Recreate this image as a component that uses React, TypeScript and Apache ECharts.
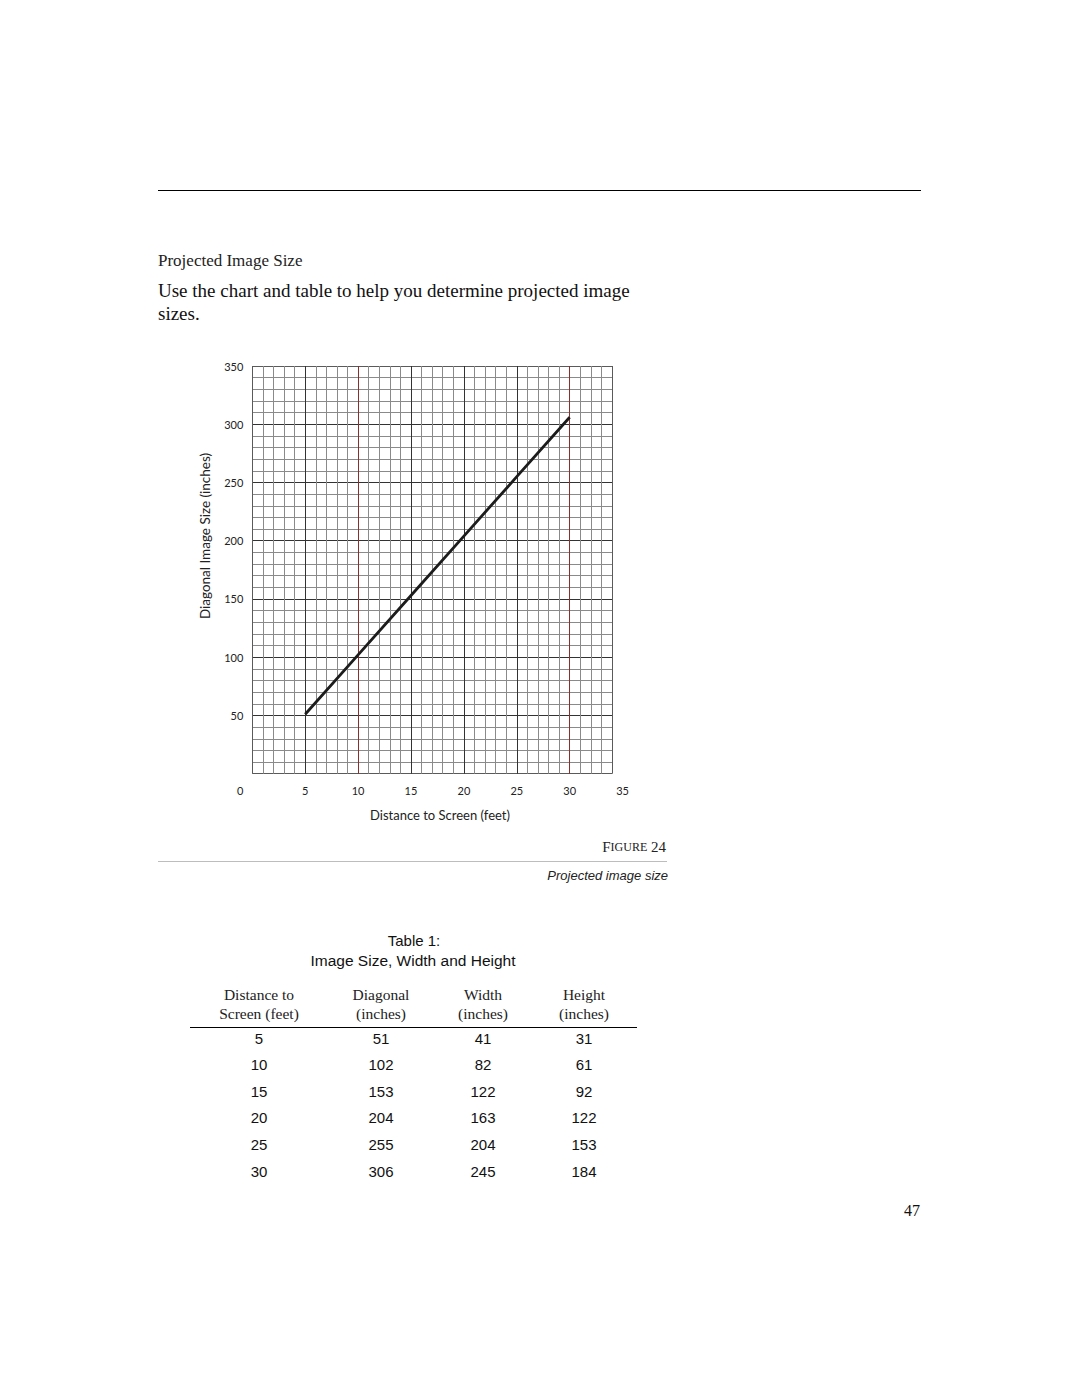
import React, { useEffect, useRef } from "react";
import * as echarts from "echarts";

// ---- data ----
const distances = [5, 10, 15, 20, 25, 30];
const diagonal = [51, 102, 153, 204, 255, 306];
const widths = [41, 82, 122, 163, 204, 245];
const heights = [31, 61, 92, 122, 153, 184];
const headerTop = ["Distance to", "Diagonal", "Width", "Height"];
const headerBottom = ["Screen (feet)", "(inches)", "(inches)", "(inches)"];
const xMax = 34;
const xLabelMax = 35;
const yMax = 350;

const SERIF = "'Liberation Serif', 'DejaVu Serif', serif";
const SANS = "'Liberation Sans', Arial, sans-serif";
const GILL = "Lato, 'Open Sans', sans-serif";

const EDGE = "#5a5a5a";
const MINOR = "#8a8a8a";
const MAJOR = "#333333";
const RED = "#8a2e2e";

export default function App() {
  const ref = useRef<HTMLDivElement>(null);

  useEffect(() => {
    if (!ref.current) return;
    const chart = echarts.init(ref.current, null, { renderer: "svg" });

    const xColors: string[] = [];
    for (let i = 0; i <= xMax; i++) {
      if (i === 0 || i === xMax) xColors.push(EDGE);
      else if (i === 10 || i === 30) xColors.push(RED);
      else if (i % 5 === 0) xColors.push(MAJOR);
      else xColors.push(MINOR);
    }
    const yColors: string[] = [];
    for (let i = 0; i <= yMax / 10; i++) {
      if (i === 0 || i === yMax / 10) yColors.push(EDGE);
      else if (i % 5 === 0) yColors.push(MAJOR);
      else yColors.push(MINOR);
    }

    const gLeft = 252.3;
    const gTop = 366;
    const gWidth = 359.7;
    const gHeight = 407.7;
    const unitX = gWidth / xMax;

    const colX = [259, 381, 483, 584];
    const rowY0 = 1038;
    const rowStep = 26.6;

    const graphics: any[] = [
      { type: "line", shape: { x1: 158, y1: 190.5, x2: 921, y2: 190.5 }, style: { stroke: "#000", lineWidth: 1 } },
      { type: "text", x: 158, y: 260, style: { text: "Projected Image Size", font: `17px ${SERIF}`, fill: "#222", textVerticalAlign: "middle" } },
      { type: "text", x: 158, y: 290, style: { text: "Use the chart and table to help you determine projected image", font: `19px ${SERIF}`, fill: "#111", textVerticalAlign: "middle" } },
      { type: "text", x: 158, y: 313, style: { text: "sizes.", font: `19px ${SERIF}`, fill: "#111", textVerticalAlign: "middle" } },
      { type: "text", x: 205, y: 536, rotation: Math.PI / 2, style: { text: "Diagonal Image Size (inches)", font: `13.5px ${GILL}`, fill: "#222", textAlign: "center", textVerticalAlign: "middle" } },
      { type: "text", x: 440, y: 815, style: { text: "Distance to Screen (feet)", font: `13px ${GILL}`, fill: "#222", textAlign: "center", textVerticalAlign: "middle" } },
      {
        type: "text", x: 666, y: 847,
        style: {
          text: "{a|F}{b|IGURE}{a| 24}",
          textAlign: "right", textVerticalAlign: "middle",
          rich: {
            a: { fontFamily: SERIF, fontSize: 15, fill: "#222" },
            b: { fontFamily: SERIF, fontSize: 12, fill: "#222" },
          },
        },
      },
      { type: "line", shape: { x1: 158, y1: 861.5, x2: 667, y2: 861.5 }, style: { stroke: "#bdbdbd", lineWidth: 1 } },
      { type: "text", x: 668, y: 875, style: { text: "Projected image size", font: `italic 13px ${SANS}`, fill: "#222", textAlign: "right", textVerticalAlign: "middle" } },
      { type: "text", x: 414, y: 940, style: { text: "Table 1:", font: `15px ${SANS}`, fill: "#111", textAlign: "center", textVerticalAlign: "middle" } },
      { type: "text", x: 413, y: 960, style: { text: "Image Size, Width and Height", font: `15.5px ${SANS}`, fill: "#111", textAlign: "center", textVerticalAlign: "middle" } },
      { type: "line", shape: { x1: 190, y1: 1027.5, x2: 637, y2: 1027.5 }, style: { stroke: "#000", lineWidth: 1 } },
      { type: "text", x: 920, y: 1210, style: { text: "47", font: `16px ${SERIF}`, fill: "#111", textAlign: "right", textVerticalAlign: "middle" } },
    ];
    headerTop.forEach((t, i) => {
      graphics.push({ type: "text", x: colX[i], y: 994, style: { text: t, font: `15.5px ${SERIF}`, fill: "#222", textAlign: "center", textVerticalAlign: "middle" } });
      graphics.push({ type: "text", x: colX[i], y: 1013, style: { text: headerBottom[i], font: `15.5px ${SERIF}`, fill: "#222", textAlign: "center", textVerticalAlign: "middle" } });
    });
    distances.forEach((d, r) => {
      const vals = [d, diagonal[r], widths[r], heights[r]];
      vals.forEach((v, c) => {
        graphics.push({ type: "text", x: colX[c], y: rowY0 + r * rowStep, style: { text: String(v), font: `15px ${SANS}`, fill: "#111", textAlign: "center", textVerticalAlign: "middle" } });
      });
    });

    chart.setOption({
      animation: false,
      backgroundColor: "#fff",
      grid: [
        { left: gLeft, top: gTop, width: gWidth, height: gHeight, containLabel: false },
        { left: gLeft, top: gTop, width: unitX * xLabelMax, height: gHeight, containLabel: false },
      ],
      xAxis: [
        {
          type: "value", gridIndex: 0, min: 0, max: xMax, interval: 1,
          axisLine: { show: false }, axisTick: { show: false }, axisLabel: { show: false },
          splitLine: { show: true, lineStyle: { color: xColors, width: 1 } },
        },
        {
          type: "value", gridIndex: 1, min: 0, max: xLabelMax, interval: 5,
          axisLine: { show: false }, axisTick: { show: false }, splitLine: { show: false },
          axisLabel: {
            show: true, margin: 11, fontFamily: GILL, fontSize: 11, color: "#222",
            formatter: (v: number) => (v === 0 ? "{z|0}" : String(v)),
            rich: { z: { fontFamily: GILL, fontSize: 11, color: "#222", padding: [0, 24, 0, 0] } },
          },
        },
      ],
      yAxis: [
        {
          type: "value", gridIndex: 0, min: 0, max: yMax, interval: 10,
          axisLine: { show: false }, axisTick: { show: false },
          axisLabel: {
            show: true, margin: 9, fontFamily: GILL, fontSize: 11, color: "#222",
            formatter: (v: number) => (v % 50 === 0 && v > 0 ? String(v) : ""),
          },
          splitLine: { show: true, lineStyle: { color: yColors, width: 1 } },
        },
        { type: "value", gridIndex: 1, min: 0, max: yMax, show: false },
      ],
      series: [
        {
          type: "line",
          xAxisIndex: 0,
          yAxisIndex: 0,
          data: distances.map((d, i) => [d, diagonal[i]]),
          symbol: "none",
          lineStyle: { color: "#1c1c1c", width: 2.8 },
          z: 5,
        },
      ],
      graphic: graphics,
    });

    return () => chart.dispose();
  }, []);

  return (
    <div
      ref={ref}
      style={{ position: "absolute", left: 0, top: 0, width: 1080, height: 1397 }}
    />
  );
}
